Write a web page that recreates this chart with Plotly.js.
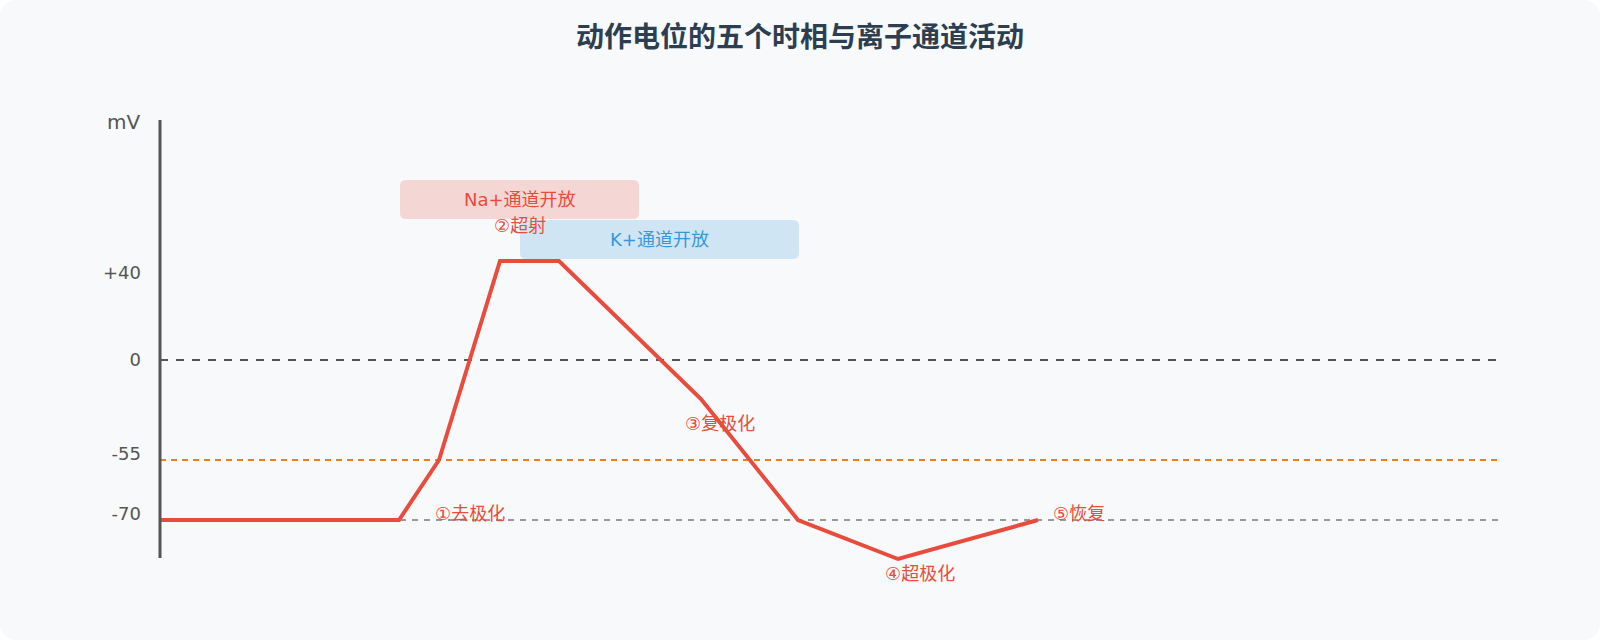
<!DOCTYPE html>
<html><head><meta charset="utf-8">
<script src="https://cdn.plot.ly/plotly-3.0.1.min.js"></script>
<style>
html,body{margin:0;padding:0;background:#ffffff;}
#card{width:1600px;height:640px;background:#f8f9fa;border-radius:16px;overflow:hidden;}
#chart{width:1600px;height:640px;}
</style></head><body>
<div id="card"><div id="chart"></div></div>
<script>
// schematic time axis and schematic potential level (display units)
const timeT  = [0, 23.9, 27.9, 34.0, 39.9, 54.1, 63.8, 73.8, 87.8];
const levelV = [-160, -160, -100, 99, 99, -39, -160, -199, -160];

// y-axis tick labels (schematic positions)
const tickLevels = [87, 0, -94, -154];
const tickLabels = ['+40', '0', '-55', '-70'];

// reference lines
const zeroLevel = 0;
const thresholdLevel = -100;
const restLevel = -160;
const refLabels = ['阈值', '静息'];

// phase labels
const phaseText  = ['①去极化', '②超射', '③复极化', '④超极化', '⑤恢复'];
const phaseT     = [31.0, 36.0, 55.95, 75.95, 91.85];
const phaseLevel = [-153, 135, -63, -213, -153];

// ion channel activity bands
const channelText   = ['Na+通道开放', 'K+通道开放'];
const channelStart  = [24.0, 36.0];
const channelEnd    = [47.9, 63.9];
const channelTop    = [180, 140];
const channelBottom = [141, 101];
const channelFill   = ['rgba(231,76,60,0.2)', 'rgba(52,152,219,0.2)'];
const channelColor  = ['#e74c3c', '#3498db'];

const X_MAX = 133.8;
const FONT = 'DejaVu Sans, "Noto Sans CJK SC", sans-serif';

function roundRect(x0, x1, y0, y1, rx, ry) {
  return `M ${x0 + rx},${y0} L ${x1 - rx},${y0} Q ${x1},${y0} ${x1},${y0 + ry} ` +
         `L ${x1},${y1 - ry} Q ${x1},${y1} ${x1 - rx},${y1} L ${x0 + rx},${y1} ` +
         `Q ${x0},${y1} ${x0},${y1 - ry} L ${x0},${y0 + ry} Q ${x0},${y0} ${x0 + rx},${y0} Z`;
}

const shapes = [];
channelText.forEach((t, i) => {
  shapes.push({
    type: 'path', xref: 'x', yref: 'y', layer: 'below',
    path: roundRect(channelStart[i], channelEnd[i], channelBottom[i], channelTop[i], 0.6, 6),
    fillcolor: channelFill[i], line: {width: 0}
  });
});
shapes.push({type: 'line', xref: 'x', yref: 'y', layer: 'below', x0: 0, x1: X_MAX, y0: zeroLevel, y1: zeroLevel,
  line: {color: '#555555', width: 2, dash: '8px,8px'}});
shapes.push({type: 'line', xref: 'x', yref: 'y', layer: 'below', x0: 0, x1: X_MAX, y0: thresholdLevel, y1: thresholdLevel,
  line: {color: '#e67e22', width: 2, dash: '6px,5px'}});
shapes.push({type: 'line', xref: 'x', yref: 'y', layer: 'below', x0: 0, x1: X_MAX, y0: restLevel, y1: restLevel,
  line: {color: '#999999', width: 2, dash: '6px,6px'}});
// y axis line (paper x so it is not clipped by the plot area)
shapes.push({type: 'line', xref: 'paper', yref: 'paper', layer: 'above', x0: 0, x1: 0, y0: 42 / 480, y1: 1,
  line: {color: '#555555', width: 3}});

const annotations = [];
annotations.push({xref: 'x', yref: 'y', x: 0, y: 238, xanchor: 'right', yanchor: 'middle', xshift: -18,
  text: 'mV', showarrow: false, font: {family: FONT, size: 20, color: '#555555'}});
channelText.forEach((t, i) => {
  annotations.push({xref: 'x', yref: 'y', x: (channelStart[i] + channelEnd[i]) / 2,
    y: (channelTop[i] + channelBottom[i]) / 2, xanchor: 'center', yanchor: 'middle',
    text: t, showarrow: false, font: {family: FONT, size: 18, color: channelColor[i]}});
});
phaseText.forEach((t, i) => {
  annotations.push({xref: 'x', yref: 'y', x: phaseT[i], y: phaseLevel[i], xanchor: 'center', yanchor: 'middle',
    text: t, showarrow: false, font: {family: FONT, size: 18, color: '#e74c3c'}});
});
annotations.push({xref: 'x', yref: 'y', x: X_MAX + 1.3, y: thresholdLevel - 3, xanchor: 'left', yanchor: 'middle',
  text: refLabels[0], showarrow: false, font: {family: FONT, size: 16, color: '#e67e22'}});
annotations.push({xref: 'x', yref: 'y', x: X_MAX + 1.3, y: restLevel - 3, xanchor: 'left', yanchor: 'middle',
  text: refLabels[1], showarrow: false, font: {family: FONT, size: 16, color: '#95a5a6'}});

const trace = {
  type: 'scatter', mode: 'lines', x: timeT, y: levelV,
  line: {color: '#e74c3c', width: 4}, hoverinfo: 'skip', showlegend: false
};

const layout = {
  width: 1600, height: 640, autosize: false,
  paper_bgcolor: 'rgba(0,0,0,0)', plot_bgcolor: 'rgba(0,0,0,0)',
  margin: {l: 160, r: 102, t: 120, b: 40},
  title: {text: '动作电位的五个时相与离子通道活动', xref: 'container', yref: 'container', x: 0.5, y: 1 - 37 / 640,
    xanchor: 'center', yanchor: 'middle',
    font: {family: '"Noto Sans CJK SC", sans-serif', size: 28, color: '#2c3e50', weight: 700}},
  xaxis: {range: [0, X_MAX], visible: false, fixedrange: true},
  yaxis: {range: [-240, 240], showgrid: false, zeroline: false, showline: false, ticks: '',
    tickmode: 'array', tickvals: tickLevels, ticktext: tickLabels, ticklabelstandoff: 18,
    tickfont: {family: FONT, size: 18, color: '#555555'}, fixedrange: true},
  shapes: shapes, annotations: annotations, showlegend: false
};

Plotly.newPlot('chart', [trace], layout, {staticPlot: true, displayModeBar: false});
</script>
</body></html>
